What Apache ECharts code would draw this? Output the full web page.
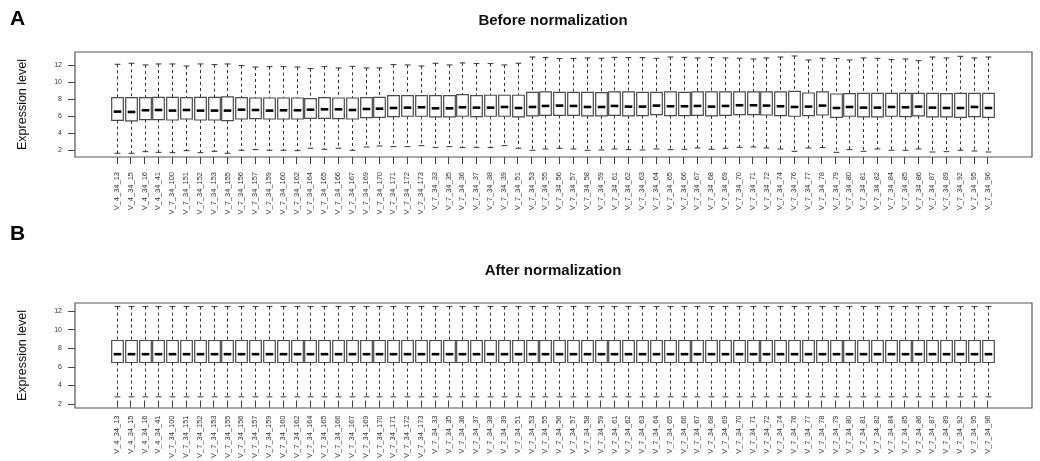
<!DOCTYPE html>
<html>
<head>
<meta charset="utf-8">
<script src="https://cdn.jsdelivr.net/npm/echarts@6/dist/echarts.min.js"></script>
<style>
  html, body { margin: 0; padding: 0; background: #fff; }
  #box { width: 1040px; height: 461px; }
</style>
</head>
<body>
<div id="box"></div>
<script>
const samples = ['V_4_34_13','V_4_34_15','V_4_34_16','V_4_34_41','V_7_34_100','V_7_34_151','V_7_34_152','V_7_34_153','V_7_34_155','V_7_34_156','V_7_34_157','V_7_34_159','V_7_34_160','V_7_34_162','V_7_34_164','V_7_34_165','V_7_34_166','V_7_34_167','V_7_34_169','V_7_34_170','V_7_34_171','V_7_34_172','V_7_34_173','V_7_34_33','V_7_34_35','V_7_34_36','V_7_34_37','V_7_34_38','V_7_34_39','V_7_34_51','V_7_34_53','V_7_34_55','V_7_34_56','V_7_34_57','V_7_34_58','V_7_34_59','V_7_34_61','V_7_34_62','V_7_34_63','V_7_34_64','V_7_34_65','V_7_34_66','V_7_34_67','V_7_34_68','V_7_34_69','V_7_34_70','V_7_34_71','V_7_34_72','V_7_34_74','V_7_34_76','V_7_34_77','V_7_34_78','V_7_34_79','V_7_34_80','V_7_34_81','V_7_34_82','V_7_34_84','V_7_34_85','V_7_34_86','V_7_34_87','V_7_34_89','V_7_34_92','V_7_34_95','V_7_34_96'];

const yTicks = [2, 4, 6, 8, 10, 12];

// before normalization
const lowerA = [1.61,1.61,1.80,1.72,1.68,1.92,1.68,1.84,1.61,1.96,2.04,1.96,1.96,1.92,2.20,2.08,2.20,1.96,2.35,2.47,
  2.39,2.39,2.51,2.31,2.39,2.28,2.31,2.28,2.51,2.20,1.96,2.12,2.20,2.12,1.96,2.00,2.12,2.04,2.00,2.12,2.04,2.08,
  2.24,2.08,2.20,2.31,2.35,2.24,2.12,1.84,2.24,2.28,1.72,2.04,1.84,2.12,1.96,1.96,2.12,1.76,1.80,1.96,1.88,1.76];
const q1A = [5.50,5.43,5.58,5.58,5.54,5.66,5.54,5.54,5.46,5.66,5.70,5.66,5.66,5.66,5.74,5.74,5.70,5.66,5.82,5.86,
  5.94,5.98,5.98,5.90,5.90,5.98,5.94,5.98,5.98,5.90,6.02,6.09,6.09,6.09,6.02,6.02,6.09,6.02,6.06,6.17,6.06,6.06,
  6.09,6.02,6.09,6.17,6.17,6.13,6.06,5.98,6.06,6.13,5.86,5.98,5.90,5.90,5.98,5.94,6.02,5.90,5.90,5.86,5.94,5.86];
const medianA = [6.53,6.49,6.69,6.72,6.65,6.72,6.65,6.65,6.65,6.76,6.72,6.65,6.69,6.69,6.76,6.80,6.80,6.72,6.84,6.88,
  6.96,7.00,7.04,6.92,6.92,7.04,7.00,7.00,7.08,6.96,7.08,7.20,7.24,7.20,7.08,7.08,7.20,7.12,7.12,7.24,7.16,7.16,
  7.20,7.12,7.20,7.28,7.28,7.24,7.16,7.08,7.12,7.24,6.96,7.08,7.00,7.00,7.08,7.04,7.12,7.00,6.96,6.96,7.08,6.96];
const q3A = [8.18,8.18,8.18,8.22,8.22,8.18,8.22,8.22,8.26,8.18,8.14,8.14,8.14,8.14,8.06,8.18,8.14,8.14,8.18,8.22,
  8.42,8.42,8.42,8.42,8.42,8.54,8.42,8.46,8.46,8.46,8.81,8.85,8.81,8.81,8.81,8.77,8.85,8.85,8.81,8.81,8.85,8.81,
  8.85,8.85,8.85,8.85,8.85,8.85,8.85,8.93,8.73,8.85,8.61,8.65,8.69,8.69,8.69,8.69,8.69,8.69,8.65,8.69,8.69,8.69];
const upperA = [12.12,12.24,12.04,12.16,12.16,11.92,12.16,12.08,12.16,11.96,11.80,11.84,11.84,11.80,11.61,11.84,11.69,11.88,11.69,11.69,
  12.08,12.04,11.92,12.24,12.04,12.28,12.20,12.20,12.04,12.24,12.98,12.91,12.79,12.79,12.87,12.83,12.94,12.91,12.91,12.83,12.98,12.94,
  12.87,12.91,12.87,12.83,12.75,12.87,12.98,13.10,12.63,12.83,12.79,12.63,12.87,12.83,12.67,12.75,12.55,12.98,12.87,13.06,12.87,12.98];

// after normalization
const lowerB = [1.97,1.97,1.97,1.97,1.97,1.97,1.97,1.97,1.97,1.97,1.97,1.97,1.97,1.97,1.97,1.97,1.97,1.97,1.97,1.97,1.97,1.97,
  1.97,1.97,1.97,1.97,1.97,1.97,1.97,1.97,1.97,1.97,1.97,1.97,1.97,1.97,1.97,1.97,1.97,1.97,1.97,1.97,
  1.97,1.97,1.97,1.97,1.97,1.97,1.97,1.97,1.97,1.97,1.97,1.97,1.97,1.97,1.97,1.97,1.97,1.97,1.97,1.97,1.97,1.97];
const q1B = [5.96,5.96,5.96,5.96,5.96,5.96,5.96,5.96,5.96,5.96,5.96,5.96,5.96,5.96,5.96,5.96,5.96,5.96,5.96,5.96,5.96,5.96,
  5.96,5.96,5.96,5.96,5.96,5.96,5.96,5.96,5.96,5.96,5.96,5.96,5.96,5.96,5.96,5.96,5.96,5.96,5.96,5.96,
  5.96,5.96,5.96,5.96,5.96,5.96,5.96,5.96,5.96,5.96,5.96,5.96,5.96,5.96,5.96,5.96,5.96,5.96,5.96,5.96,5.96,5.96];
const medianB = [6.93,6.93,6.93,6.93,6.93,6.93,6.93,6.93,6.93,6.93,6.93,6.93,6.93,6.93,6.93,6.93,6.93,6.93,6.93,6.93,6.93,6.93,
  6.93,6.93,6.93,6.93,6.93,6.93,6.93,6.93,6.93,6.93,6.93,6.93,6.93,6.93,6.93,6.93,6.93,6.93,6.93,6.93,
  6.93,6.93,6.93,6.93,6.93,6.93,6.93,6.93,6.93,6.93,6.93,6.93,6.93,6.93,6.93,6.93,6.93,6.93,6.93,6.93,6.93,6.93];
const q3B = [8.52,8.52,8.52,8.52,8.52,8.52,8.52,8.52,8.52,8.52,8.52,8.52,8.52,8.52,8.52,8.52,8.52,8.52,8.52,8.52,8.52,8.52,
  8.52,8.52,8.52,8.52,8.52,8.52,8.52,8.52,8.52,8.52,8.52,8.52,8.52,8.52,8.52,8.52,8.52,8.52,8.52,8.52,
  8.52,8.52,8.52,8.52,8.52,8.52,8.52,8.52,8.52,8.52,8.52,8.52,8.52,8.52,8.52,8.52,8.52,8.52,8.52,8.52,8.52,8.52];
const upperB = [12.46,12.46,12.46,12.46,12.46,12.46,12.46,12.46,12.46,12.46,12.46,12.46,12.46,12.46,12.46,12.46,12.46,12.46,12.46,12.46,12.46,12.46,
  12.46,12.46,12.46,12.46,12.46,12.46,12.46,12.46,12.46,12.46,12.46,12.46,12.46,12.46,12.46,12.46,12.46,12.46,12.46,12.46,
  12.46,12.46,12.46,12.46,12.46,12.46,12.46,12.46,12.46,12.46,12.46,12.46,12.46,12.46,12.46,12.46,12.46,12.46,12.46,12.46,12.46,12.46];

function toRows(lo, q1, med, q3, hi) {
  return samples.map((s, i) => [i, lo[i], q1[i], med[i], q3[i], hi[i]]);
}

// R style box: dashed whiskers, short staples, thick median
function renderBox(params, api) {
  let i = api.value(0);
  let lo = api.coord([i, api.value(1)]);
  let q1 = api.coord([i, api.value(2)]);
  let med = api.coord([i, api.value(3)]);
  let q3 = api.coord([i, api.value(4)]);
  let hi = api.coord([i, api.value(5)]);
  let half = api.size([1, 0])[0] * 0.42;
  let cap = half / 2;
  let x = Math.round(med[0]) + 0.5;
  let dash = { stroke: '#333', lineWidth: 1, lineDash: [3, 3] };
  let solid = { stroke: '#333', lineWidth: 1 };
  return {
    type: 'group',
    children: [
      { type: 'line', shape: { x1: x, y1: hi[1], x2: x, y2: q3[1] }, style: dash },
      { type: 'line', shape: { x1: x, y1: q1[1], x2: x, y2: lo[1] }, style: dash },
      { type: 'line', shape: { x1: x - cap, y1: hi[1], x2: x + cap, y2: hi[1] }, style: solid },
      { type: 'line', shape: { x1: x - cap, y1: lo[1], x2: x + cap, y2: lo[1] }, style: solid },
      { type: 'rect', shape: { x: x - half, y: q3[1], width: half * 2, height: q1[1] - q3[1] },
        style: { fill: '#fff', stroke: '#4a4a4a', lineWidth: 1.2 } },
      { type: 'line', shape: { x1: x - half + 2, y1: med[1], x2: x + half - 2, y2: med[1] },
        style: { stroke: '#000', lineWidth: 2.6 } }
    ]
  };
}

const font = '"Liberation Sans", Arial, Helvetica, sans-serif';

function frameY(grid, min, max) {
  return {
    type: 'value', gridIndex: grid, min: min, max: max, offset: 10,
    name: 'Expression level', nameLocation: 'middle', nameGap: 36,
    nameTextStyle: { fontSize: 12.5, color: '#111', fontFamily: font },
    splitLine: { show: false },
    axisLine: { show: false },
    axisTick: { show: true, length: 7, customValues: yTicks, lineStyle: { color: '#444' } },
    axisLabel: { customValues: yTicks, fontSize: 7, color: '#333', margin: 3, fontFamily: font }
  };
}
function innerY(grid, min, max) {
  return { type: 'value', gridIndex: grid, min: min, max: max, show: false };
}
function frameX(grid) {
  return { type: 'value', gridIndex: grid, show: false, min: 0, max: 1 };
}
function sampleX(grid) {
  return {
    type: 'category', gridIndex: grid, data: samples, boundaryGap: true,
    axisLine: { show: false },
    axisTick: { show: true, alignWithLabel: true, length: 7, lineStyle: { color: '#444' } },
    axisLabel: { interval: 0, rotate: 90, fontSize: 7.5, color: '#333', margin: 15, fontFamily: font },
    splitLine: { show: false }
  };
}

let myChart = echarts.init(document.getElementById('box'), null, { renderer: 'canvas' });
let option = {
  backgroundColor: '#fff',
  animation: false,
  title: [
    { text: 'A', left: 10, top: 9, padding: 0, textStyle: { fontSize: 21, fontWeight: 'bold', color: '#000', fontFamily: font } },
    { text: 'Before normalization', left: 553, top: 13, padding: 0, textAlign: 'center',
      textStyle: { fontSize: 15, fontWeight: 'bold', color: '#111', fontFamily: font } },
    { text: 'B', left: 10, top: 224, padding: 0, textStyle: { fontSize: 21, fontWeight: 'bold', color: '#000', fontFamily: font } },
    { text: 'After normalization', left: 553, top: 263, padding: 0, textAlign: 'center',
      textStyle: { fontSize: 15, fontWeight: 'bold', color: '#111', fontFamily: font } }
  ],
  grid: [
    { left: 75, top: 52, width: 957, height: 105, show: true, borderColor: '#555', borderWidth: 1.2, backgroundColor: 'transparent' },
    { left: 110, top: 52, width: 884.5, height: 105 },
    { left: 75, top: 303, width: 957, height: 105, show: true, borderColor: '#555', borderWidth: 1.2, backgroundColor: 'transparent' },
    { left: 110, top: 303, width: 884.5, height: 105 }
  ],
  xAxis: [frameX(0), sampleX(1), frameX(2), sampleX(3)],
  yAxis: [frameY(0, 1.17, 13.57), innerY(1, 1.17, 13.57), frameY(2, 1.55, 12.88), innerY(3, 1.55, 12.88)],
  series: [
    {
      name: 'Before normalization', type: 'custom', xAxisIndex: 1, yAxisIndex: 1,
      renderItem: renderBox, encode: { x: 0, y: [1, 2, 3, 4, 5] },
      data: toRows(lowerA, q1A, medianA, q3A, upperA)
    },
    {
      name: 'After normalization', type: 'custom', xAxisIndex: 3, yAxisIndex: 3,
      renderItem: renderBox, encode: { x: 0, y: [1, 2, 3, 4, 5] },
      data: toRows(lowerB, q1B, medianB, q3B, upperB)
    }
  ]
};

myChart.setOption(option);
window.addEventListener('resize', function () {
  myChart.resize();
});
</script>
</body>
</html>
